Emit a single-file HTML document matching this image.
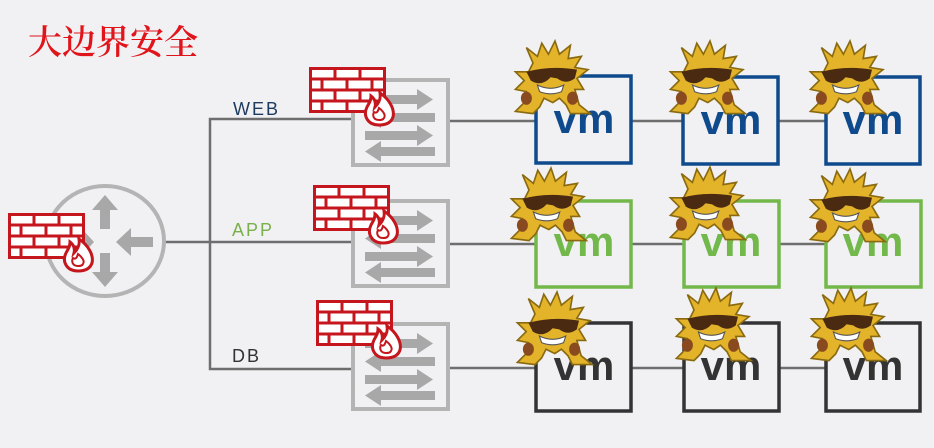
<!DOCTYPE html>
<html><head><meta charset="utf-8"><style>
html,body{margin:0;padding:0;background:#f1f1f3;}
svg{display:block}
.t{font-family:"Liberation Sans",sans-serif}
</style></head><body>
<svg width="934" height="448" viewBox="0 0 934 448" xmlns="http://www.w3.org/2000/svg">
<defs>
 <g id="fw">
  <rect x="1.5" y="1.5" width="74" height="43" fill="#fff" stroke="#c4161c" stroke-width="3"/>
  <g stroke="#c4161c" stroke-width="3">
   <line x1="1.5" y1="12" x2="75.5" y2="12"/><line x1="1.5" y1="23" x2="75.5" y2="23"/><line x1="1.5" y1="34" x2="75.5" y2="34"/>
   <line x1="26" y1="1.5" x2="26" y2="12"/><line x1="51" y1="1.5" x2="51" y2="12"/>
   <line x1="13" y1="12" x2="13" y2="23"/><line x1="38" y1="12" x2="38" y2="23"/><line x1="63" y1="12" x2="63" y2="23"/>
   <line x1="26" y1="23" x2="26" y2="34"/><line x1="51" y1="23" x2="51" y2="34"/>
   <line x1="13" y1="34" x2="13" y2="44"/><line x1="38" y1="34" x2="38" y2="44"/><line x1="63" y1="34" x2="63" y2="44"/>
  </g>
  <path d="M70 58 C58 58 54 48 58 40 C60 36 62 34 62 29 C66 32 67 36 66 40 C70 36 72 32 71 26 C80 32 86 42 84 50 C82 56 77 58 70 58Z" fill="#fff" stroke="#c4161c" stroke-width="3"/>
  <path d="M70 53 C65 53 63 49 65 45 C68 47 69 44 70 41 C74 44 77 48 75 51 C74 53 72 53 70 53Z" fill="none" stroke="#c4161c" stroke-width="2"/>
 </g>
 <g id="sw">
  <rect x="2" y="2" width="95" height="85" fill="#f1f1f3" stroke="#b4b4b4" stroke-width="4"/>
  <g fill="#a8a8a8">
   <rect x="14" y="17" width="56" height="9"/><polygon points="66,11 82,21.5 66,32"/>
   <rect x="28" y="35" width="56" height="9"/><polygon points="30,29 14,39.5 30,50"/>
   <rect x="14" y="53" width="56" height="9"/><polygon points="66,47 82,57.5 66,68"/>
   <rect x="28" y="69" width="56" height="9"/><polygon points="30,63 14,73.5 30,84"/>
  </g>
 </g>
 <g id="bug">
  <path d="M20 20 L14 6 L24 14 L28 2 L34 12 L40 0 L44 12 L54 4 L52 16 L64 14 L58 24 L70 26 L60 34 L66 44 L58 44 L62 58 L72 66 L54 66 L50 58 L44 52 L38 56 L30 52 L26 60 L20 66 L4 64 L12 56 L14 46 L4 44 L12 36 L4 28 L16 28Z" fill="#e3b32a" stroke="#8a6a10" stroke-width="1.5"/>
  <path d="M14 28 Q36 22 60 26 L58 34 Q50 40 42 34 L36 33 Q28 42 18 36Z" fill="#4a2a10"/>
  <path d="M24 40 Q36 46 48 40 L46 46 Q36 50 26 46Z" fill="#fff" stroke="#555" stroke-width="1"/>
  <ellipse cx="14" cy="52" rx="5" ry="6" fill="#8a4a20"/><ellipse cx="56" cy="52" rx="5" ry="6" fill="#8a4a20"/>
 </g>
</defs>

<text x="28" y="54" font-family="'Noto Serif CJK SC','Noto Sans CJK SC',serif" font-size="34" font-weight="600" fill="#e0141a">大边界安全</text>

<g stroke="#6e6e6e" stroke-width="2.5" fill="none">
 <polyline points="352,119 210,119 210,369 352,369"/>
 <line x1="165" y1="242" x2="352" y2="242"/>
 <line x1="450" y1="121" x2="535" y2="121"/><line x1="632" y1="121" x2="682" y2="121"/><line x1="778" y1="121" x2="825" y2="121"/>
 <line x1="450" y1="244" x2="535" y2="244"/><line x1="632" y1="244" x2="683" y2="244"/><line x1="780" y1="244" x2="825" y2="244"/>
 <line x1="450" y1="368" x2="535" y2="368"/><line x1="632" y1="368" x2="683" y2="368"/><line x1="780" y1="368" x2="825" y2="368"/>
</g>
<text class="t" x="233" y="115" font-size="18" fill="#1d3a5f" letter-spacing="2">WEB</text>
<text class="t" x="232" y="236" font-size="18" fill="#7ab04c" letter-spacing="2">APP</text>
<text class="t" x="232" y="362" font-size="18" fill="#333" letter-spacing="2">DB</text>

<ellipse cx="105" cy="241" rx="59" ry="55" fill="#f1f1f3" stroke="#b4b4b4" stroke-width="4"/>
<g fill="#a8a8a8">
 <rect x="100" y="207" width="10" height="22"/><polygon points="92,210 105,195 118,210"/>
 <rect x="100" y="253" width="10" height="22"/><polygon points="92,272 105,287 118,272"/>
 <rect x="128" y="237" width="25" height="10"/><polygon points="131,228 116,242 131,256"/>
 <polygon points="82,229 94,242 82,255"/>
</g>
<use href="#fw" x="8" y="213"/>

<use href="#sw" x="351" y="78"/>
<use href="#sw" x="351" y="199"/>
<use href="#sw" x="351" y="322"/>
<use href="#fw" x="309" y="67"/>
<use href="#fw" x="313" y="185"/>
<use href="#fw" x="316" y="300"/>

<g fill="#f1f1f3" stroke-width="3.5">
 <rect x="536" y="76" width="95" height="87" stroke="#0e4a8c"/>
 <rect x="683" y="77" width="95" height="87" stroke="#0e4a8c"/>
 <rect x="826" y="77" width="94" height="87" stroke="#0e4a8c"/>
 <rect x="536" y="201" width="95" height="86" stroke="#72b84a"/>
 <rect x="684" y="201" width="95" height="86" stroke="#72b84a"/>
 <rect x="826" y="201" width="95" height="86" stroke="#72b84a"/>
 <rect x="536" y="323" width="95" height="88" stroke="#333"/>
 <rect x="684" y="323" width="95" height="88" stroke="#333"/>
 <rect x="826" y="323" width="94" height="88" stroke="#333"/>
</g>
<g class="t" font-size="42" font-weight="bold" text-anchor="middle">
 <text x="584" y="133" fill="#0e4a8c">vm</text>
 <text x="731" y="134" fill="#0e4a8c">vm</text>
 <text x="873" y="134" fill="#0e4a8c">vm</text>
 <text x="584" y="256" fill="#72b84a">vm</text>
 <text x="731" y="256" fill="#72b84a">vm</text>
 <text x="873" y="256" fill="#72b84a">vm</text>
 <text x="584" y="380" fill="#333">vm</text>
 <text x="731" y="380" fill="#333">vm</text>
 <text x="873" y="380" fill="#333">vm</text>
</g>
<use href="#bug" transform="translate(511,41) scale(1.1)"/>
<use href="#bug" transform="translate(666,41) scale(1.1)"/>
<use href="#bug" transform="translate(806,41) scale(1.1)"/>
<use href="#bug" transform="translate(507,168) scale(1.1)"/>
<use href="#bug" transform="translate(666,167) scale(1.1)"/>
<use href="#bug" transform="translate(806,169) scale(1.1)"/>
<use href="#bug" transform="translate(513,292) scale(1.1)"/>
<use href="#bug" transform="translate(672,288) scale(1.1)"/>
<use href="#bug" transform="translate(807,288) scale(1.1)"/>
</svg>
</body></html>
